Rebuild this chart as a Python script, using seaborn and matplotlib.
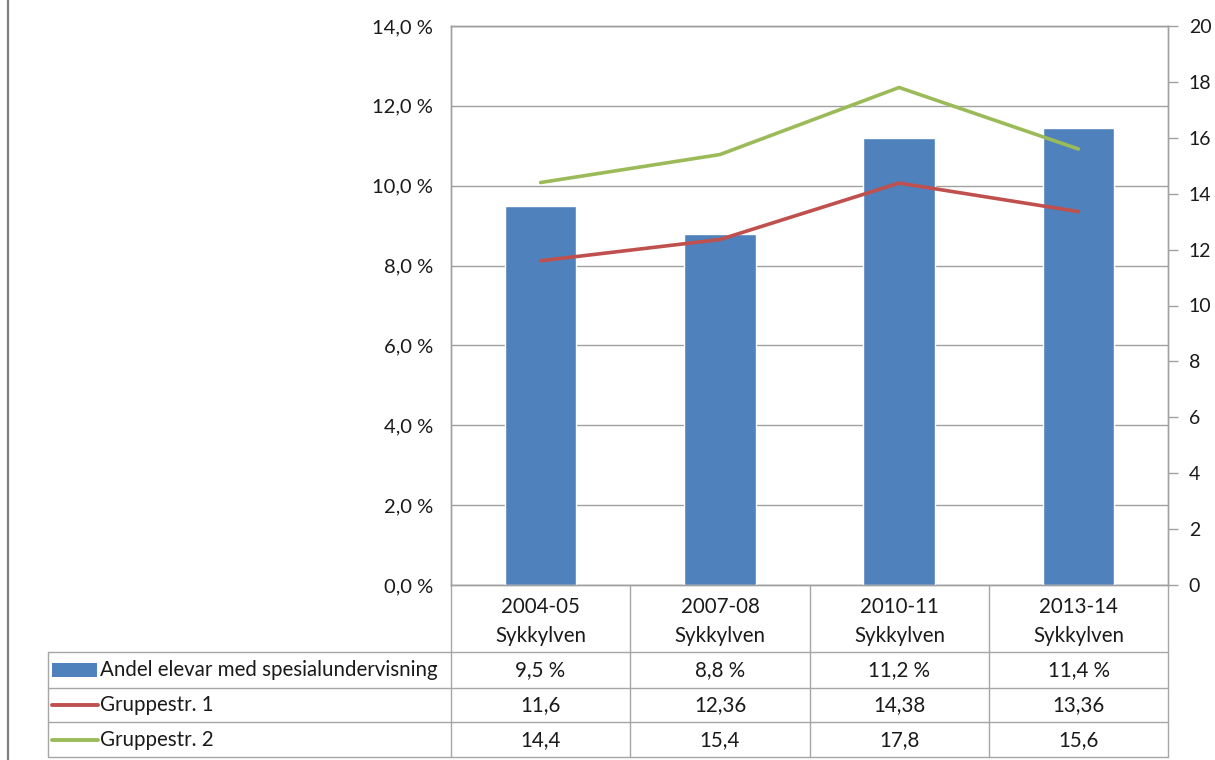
import numpy as np
import pandas as pd
import matplotlib
matplotlib.use("Agg")
import matplotlib.pyplot as plt
from matplotlib.lines import Line2D
from matplotlib.patches import Rectangle
from matplotlib.ticker import FuncFormatter, MultipleLocator
import seaborn as sns

# ---- data ----
years = ["2004-05", "2007-08", "2010-11", "2013-14"]
places = ["Sykkylven", "Sykkylven", "Sykkylven", "Sykkylven"]
andel = [9.5, 8.8, 11.2, 11.45]         # percent (left axis)
gruppe1 = [11.6, 12.36, 14.38, 13.36]   # right axis
gruppe2 = [14.4, 15.4, 17.8, 15.6]      # right axis
series_names = ["Andel elevar med spesialundervisning", "Gruppestr. 1", "Gruppestr. 2"]

BLUE, RED, GREEN = "#4F81BD", "#C0504D", "#9BBB59"
GRID = "#a0a0a0"
TXT = "#1a1a1a"

sns.set_theme(style="white")
plt.rcParams["font.family"] = ["Lato", "DejaVu Sans"]
TFONT = ["Lato", "DejaVu Sans"]
TSIZE = 14.8

W, H = 1215, 760
fig = plt.figure(figsize=(W / 100, H / 100), dpi=100)

def fx(x):
    return x / W

def fy(y):
    return 1 - y / H

L, R, T, B = 451, 1168, 26, 585
ax = fig.add_axes([fx(L), fy(B), fx(R) - fx(L), fy(T) - fy(B)])

df = pd.DataFrame({"year": years, "andel": andel})
sns.barplot(data=df, x="year", y="andel", ax=ax, color=BLUE, saturation=1,
            width=0.4, zorder=3)
ax.set_xlim(-0.5, len(years) - 0.5)
ax.set_ylim(0, 14)
ax.yaxis.set_major_locator(MultipleLocator(2))
ax.yaxis.set_major_formatter(FuncFormatter(lambda v, p: f"{v:.1f} %".replace(".", ",")))
ax.grid(axis="y", color=GRID, linewidth=1.0, zorder=0)
ax.set_axisbelow(True)
ax.set_xlabel("")
ax.set_ylabel("")
ax.set_xticks([])
for s in ax.spines.values():
    s.set_color(GRID)
    s.set_linewidth(1.0)
ax.tick_params(axis="y", which="major", length=0, labelsize=14.5,
               labelcolor=TXT, pad=13, left=True)

ax2 = ax.twinx()
xpos = np.arange(len(years))
ldf = pd.DataFrame({"x": np.concatenate([xpos, xpos]),
                    "v": gruppe1 + gruppe2,
                    "s": [series_names[1]] * 4 + [series_names[2]] * 4})
sns.lineplot(data=ldf, x="x", y="v", hue="s", palette=[RED, GREEN], ax=ax2,
             linewidth=2.6, legend=False, zorder=4)
ax2.set_ylim(0, 20)
ax2.set_xlim(-0.5, len(years) - 0.5)
ax2.yaxis.set_major_locator(MultipleLocator(2))
ax2.yaxis.set_major_formatter(FuncFormatter(lambda v, p: f"{int(round(v))}"))
ax2.set_xlabel("")
ax2.set_ylabel("")
ax2.set_xticks([])
for s in ax2.spines.values():
    s.set_color(GRID)
    s.set_linewidth(1.0)
ax2.tick_params(axis="y", which="major", length=7, color=GRID, width=1.0,
                labelsize=14, labelcolor=TXT, pad=8, right=True, direction="out")

# ---- data table below the plot ----
LC = "#a6a6a6"
def hline(y, x0, x1):
    fig.add_artist(Line2D([fx(x0), fx(x1)], [fy(y), fy(y)], color=LC, linewidth=1.0))
def vline(x, y0, y1):
    fig.add_artist(Line2D([fx(x), fx(x)], [fy(y0), fy(y1)], color=LC, linewidth=1.0))

col_edges = [451, 630, 810, 989, 1168]
rows = [652, 688, 722, 757]
for y in rows:
    hline(y, 48, 1168)
for x in col_edges:
    vline(x, B, 757)
vline(48, 652, 757)

centers = [(col_edges[i] + col_edges[i + 1]) / 2 for i in range(len(years))]
for i, c in enumerate(centers):
    fig.text(fx(c), fy(607), years[i], ha="center", va="center", fontsize=TSIZE,
             family=TFONT, color=TXT)
    fig.text(fx(c), fy(636), places[i], ha="center", va="center", fontsize=TSIZE,
             family=TFONT, color=TXT)

row_centers = [670, 705, 740]
row_vals = [
    [f"{v:.1f} %".replace(".", ",") for v in andel],
    [f"{v:g}".replace(".", ",") for v in gruppe1],
    [f"{v:g}".replace(".", ",") for v in gruppe2],
]
for r, yc in enumerate(row_centers):
    for i, c in enumerate(centers):
        fig.text(fx(c), fy(yc), row_vals[r][i], ha="center", va="center",
                 fontsize=TSIZE, family=TFONT, color=TXT)
    fig.text(fx(100), fy(yc), series_names[r], ha="left", va="center",
             fontsize=TSIZE, family=TFONT, color=TXT)

# legend keys
fig.add_artist(Rectangle((fx(52), fy(677)), fx(97) - fx(52), fy(663) - fy(677),
                         facecolor=BLUE, edgecolor="none"))
fig.add_artist(Line2D([fx(52), fx(98)], [fy(705), fy(705)], color=RED, linewidth=2.8))
fig.add_artist(Line2D([fx(52), fx(98)], [fy(740), fy(740)], color=GREEN, linewidth=2.8))

# left frame line
fig.add_artist(Line2D([fx(8), fx(8)], [0, 1], color="#7f7f7f", linewidth=1.6))

fig.savefig("out.png", dpi=100)
